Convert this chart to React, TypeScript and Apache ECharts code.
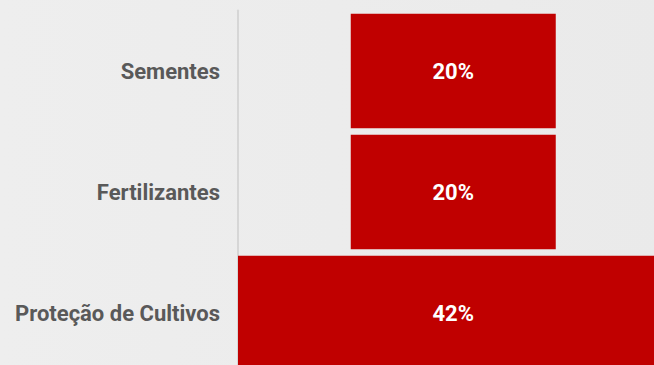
import React, { useEffect, useRef } from "react";
import * as echarts from "echarts";

const categories = ["Sementes", "Fertilizantes", "Proteção de Cultivos"];
const shares = [20, 20, 42];

export default function App() {
  const ref = useRef<HTMLDivElement>(null);
  useEffect(() => {
    if (!ref.current) return;
    const chart = echarts.init(ref.current, null, { renderer: "svg" });
    const maxV = Math.max(...shares);
    const offsets = shares.map((v) => (maxV - v) / 2);
    chart.setOption({
      animation: false,
      backgroundColor: {
        type: "linear",
        x: 0,
        y: 0,
        x2: 1,
        y2: 0,
        colorStops: [
          { offset: 0, color: "#eeeeee" },
          { offset: 1, color: "#eaeaea" },
        ],
      },
      grid: { left: 238, right: 0.5, top: 10.5, bottom: 0.5, containLabel: false },
      xAxis: {
        type: "value",
        min: 0,
        max: maxV,
        show: false,
      },
      yAxis: {
        type: "category",
        data: categories,
        inverse: true,
        axisLine: { show: true, lineStyle: { color: "#d6d6d6", width: 2 } },
        axisTick: { show: false },
        axisLabel: {
          color: "#595959",
          fontFamily: "Roboto",
          fontWeight: "bold",
          fontSize: 22,
          margin: 18,
        },
      },
      series: [
        {
          type: "bar",
          stack: "f",
          data: offsets,
          itemStyle: { color: "transparent" },
          barCategoryGap: "5.2%",
          silent: true,
        },
        {
          type: "bar",
          stack: "f",
          data: shares,
          barCategoryGap: "5.2%",
          itemStyle: { color: "#c00000" },
          label: {
            show: true,
            position: "inside",
            formatter: "{c}%",
            color: "#ffffff",
            fontFamily: "Roboto",
            fontWeight: "bold",
            fontSize: 22,
          },
        },
      ],
    });
    return () => chart.dispose();
  }, []);
  return (
    <div
      ref={ref}
      style={{ width: 669, height: 374, position: "fixed", left: 0, top: 0 }}
    />
  );
}
